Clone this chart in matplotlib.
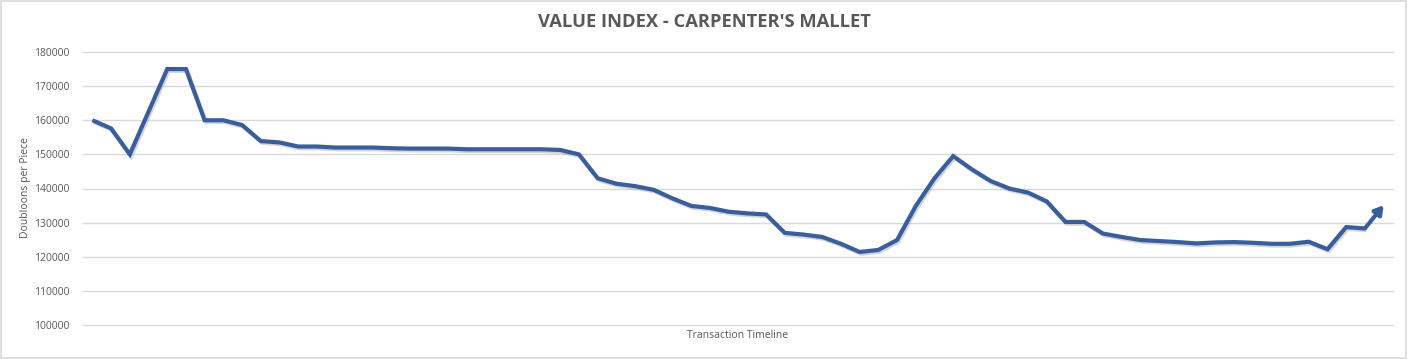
import matplotlib
matplotlib.use("Agg")
import matplotlib.pyplot as plt
import matplotlib.patheffects as pe
from matplotlib.patches import Rectangle

title = "VALUE INDEX - CARPENTER'S MALLET"
x_label = "Transaction Timeline"
y_label = "Doubloons per Piece"
y_ticks = [100000, 110000, 120000, 130000, 140000, 150000, 160000, 170000, 180000]

values = [
    160000, 157600, 150000, 162500, 175000, 175000, 160000, 160000, 158600, 153900,
    153500, 152300, 152300, 152000, 152000, 152000, 151800, 151700, 151700, 151700,
    151500, 151500, 151500, 151500, 151500, 151300, 150000, 143000, 141400, 140700,
    139600, 137100, 134900, 134300, 133200, 132700, 132400, 127000, 126500, 125800,
    123800, 121400, 122000, 124900, 134900, 143000, 149500, 145600, 142200, 140000,
    138800, 136200, 130200, 130200, 126800, 125800, 124900, 124600, 124300, 123900,
    124200, 124300, 124100, 123800, 123800, 124400, 122200, 128700, 128300, 135100,
]
positions = list(range(len(values)))

line_color = "#3A5E9C"
text_color = "#595959"
grid_color = "#D9D9D9"
font = "Open Sans"

fig = plt.figure(figsize=(14.08, 3.59), dpi=100)
fig.patch.set_facecolor("white")
fig.patches.append(Rectangle((0.0005, 0.002), 0.998, 0.994, transform=fig.transFigure,
                             fill=False, edgecolor=grid_color, linewidth=1.2))

ax = fig.add_axes([83 / 1408, (359 - 325) / 359, (1393 - 83) / 1408, (325 - 52) / 359])
ax.set_xlim(-0.5, len(values) - 0.5)
ax.set_ylim(y_ticks[0], y_ticks[-1])
ax.set_yticks(y_ticks)
ax.set_yticklabels([str(t) for t in y_ticks], fontfamily=font, fontsize=7.5, color=text_color)
ax.set_xticks([])
ax.tick_params(axis="y", length=0, pad=10)
for s in ax.spines.values():
    s.set_visible(False)
ax.grid(axis="y", color=grid_color, linewidth=1.0)
for gl in ax.yaxis.get_gridlines():
    gl.set_clip_on(False)
ax.set_axisbelow(True)

ax.plot(positions[:-1], values[:-1], color=line_color, linewidth=3.0, solid_joinstyle="miter",
        solid_capstyle="butt",
        path_effects=[pe.SimpleLineShadow(offset=(1.0, -1.3), shadow_color="#777777", alpha=0.3), pe.Normal()])
ax.annotate("", xy=(positions[-1], values[-1]), xytext=(positions[-2], values[-2]),
            arrowprops=dict(arrowstyle="-|>,head_length=0.5,head_width=0.3", color=line_color,
                            linewidth=3.0, shrinkA=0, shrinkB=0))

fig.text(704 / 1408, 1 - 22 / 359, title, ha="center", va="center",
         fontfamily=font, fontweight="bold", fontsize=13.2, color=text_color)
fig.text(738 / 1408, 1 - 335 / 359, x_label, ha="center", va="center",
         fontfamily=font, fontsize=7.5, color=text_color)
fig.text(26 / 1408, 1 - 188 / 359, y_label, ha="center", va="center", rotation=90,
         fontfamily=font, fontsize=7.5, color=text_color)

fig.savefig("out.png", dpi=100, facecolor="white")
